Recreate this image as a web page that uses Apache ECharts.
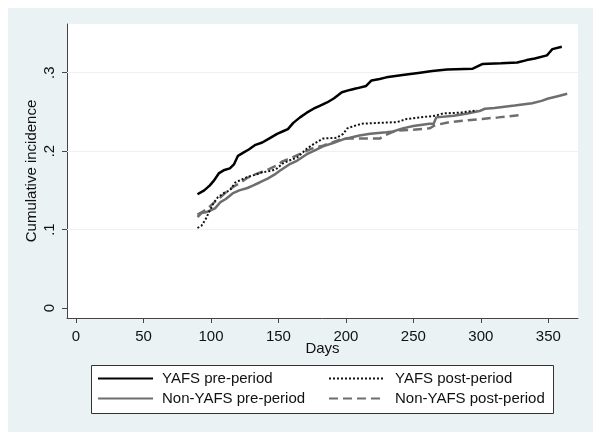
<!DOCTYPE html>
<html>
<head>
<meta charset="utf-8">
<script src="https://cdn.jsdelivr.net/npm/echarts@6/dist/echarts.min.js"></script>
<style>
html,body{margin:0;padding:0;background:#ffffff;}
#chart{width:602px;height:442px;}
</style>
</head>
<body>
<div id="chart"></div>
<script>
// ---- data ----
const seriesNames = ['YAFS pre-period', 'YAFS post-period', 'Non-YAFS pre-period', 'Non-YAFS post-period'];
const xTicks = [0, 50, 100, 150, 200, 250, 300, 350];
const yTicks = [0, 0.1, 0.2, 0.3];
const yGrid = [0.1, 0.2, 0.3];

const yafsPre = [
  [90,.145],[95,.150],[99,.156],[102,.162],[106,.172],[110,.176],[114,.178],[117,.183],
  [120,.194],[124,.198],[128,.202],[133,.208],[138,.211],[143,.216],[149,.222],[153,.225],
  [157,.228],[161,.236],[166,.243],[171,.249],[176,.254],[181,.258],[186,.262],[191,.267],
  [197,.275],[203,.278],[208,.280],[215,.283],[219,.290],[225,.292],[230,.294],[242,.297],
  [255,.300],[264,.302],[275,.304],[294,.305],[301,.311],[315,.312],[327,.313],[334,.316],
  [340,.318],[349,.322],[351,.326],[353,.330],[360,.333]
];
const yafsPost = [
  [90,.102],[93,.105],[96,.113],[99,.124],[102,.134],[105,.141],[110,.147],[114,.150],
  [118,.160],[123,.164],[127,.167],[133,.170],[138,.173],[145,.175],[149,.178],[153,.184],
  [158,.188],[164,.192],[171,.203],[177,.210],[183,.216],[193,.217],[198,.222],[201,.229],
  [206,.232],[212,.235],[225,.236],[238,.237],[245,.241],[255,.243],[266,.245],[272,.248],
  [285,.249],[297,.252]
];
const nonYafsPre = [
  [90,.116],[93,.121],[96,.122],[99,.124],[103,.127],[107,.135],[111,.139],[116,.146],
  [121,.150],[127,.153],[131,.156],[136,.160],[142,.165],[147,.170],[151,.175],[158,.183],
  [164,.188],[171,.196],[177,.201],[183,.206],[190,.210],[198,.215],[203,.217],[210,.220],
  [218,.222],[230,.224],[235,.225],[242,.229],[250,.232],[262,.235],[265,.235],[267,.243],
  [280,.245],[290,.248],[299,.251],[303,.254],[310,.255],[319,.257],[325,.258],[338,.261],
  [345,.264],[350,.267],[357,.270],[364,.273]
];
const nonYafsPost = [
  [90,.119],[94,.123],[97,.126],[102,.134],[107,.141],[112,.149],[117,.155],[122,.160],
  [127,.166],[132,.170],[137,.173],[143,.177],[149,.182],[153,.187],[159,.191],[164,.195],
  [168,.198],[173,.202],[178,.205],[183,.207],[188,.210],[193,.213],[197,.216],[215,.216],
  [225,.216],[229,.220],[234,.224],[238,.226],[248,.227],[262,.229],[266,.233],[277,.237],
  [288,.239],[301,.241],[313,.243],[330,.246]
];

// ---- chart ----
const FONT = '"Liberation Sans", Arial, sans-serif';
const chart = echarts.init(document.getElementById('chart'), null, {renderer: 'canvas'});

function fmtY(v) {
  if (Math.abs(v) < 1e-9) return '0';
  return v.toFixed(1).replace(/^0/, '');
}

const legendCommon = {
  orient: 'vertical', padding: 0, itemGap: 5, itemWidth: 55, itemHeight: 16,
  selectedMode: false, z: 20,
  itemStyle: {color: 'transparent', borderColor: 'transparent', borderWidth: 0, opacity: 0}
};

const option = {
  animation: false,
  backgroundColor: '#ffffff',
  graphic: [
    {type: 'rect', z: -10, silent: true, shape: {x: 8, y: 8, width: 585, height: 424},
     style: {fill: '#eaf2f3'}},
    {type: 'rect', z: 10, silent: true, shape: {x: 91.5, y: 365.5, width: 462, height: 48},
     style: {fill: '#ffffff', stroke: '#333333', lineWidth: 1}}
  ],
  grid: {left: 67, top: 24, right: 24, bottom: 124, show: true, backgroundColor: '#ffffff', borderWidth: 0},
  xAxis: {
    type: 'value', min: -6.7, max: 372,
    name: 'Days', nameLocation: 'middle', nameGap: 23, nameMoveOverlap: false,
    nameTextStyle: {fontFamily: FONT, fontSize: 15, color: '#111'},
    axisLine: {show: true, onZero: false, lineStyle: {color: '#444', width: 1}},
    axisTick: {show: true, length: 5, customValues: xTicks, lineStyle: {color: '#444'}},
    axisLabel: {customValues: xTicks, fontFamily: FONT, fontSize: 15, color: '#111', margin: 11},
    splitLine: {show: false}
  },
  yAxis: {
    type: 'value', min: -0.0127, max: 0.362,
    name: 'Cumulative incidence', nameLocation: 'middle', nameGap: 28, nameRotate: 90, nameMoveOverlap: false,
    nameTextStyle: {fontFamily: FONT, fontSize: 15, color: '#111'},
    axisLine: {show: true, onZero: false, lineStyle: {color: '#444', width: 1}},
    axisTick: {show: true, length: 5, customValues: yTicks, lineStyle: {color: '#444'}},
    axisLabel: {customValues: yTicks, formatter: fmtY, rotate: 90, fontFamily: FONT, fontSize: 15, color: '#111', margin: 10},
    splitLine: {show: false}
  },
  legend: [
    Object.assign({}, legendCommon, {left: 97, top: 371,
      textStyle: {fontFamily: FONT, fontSize: 15, color: '#111', padding: [0, 0, 0, 4]},
      data: [seriesNames[0], seriesNames[2]]}),
    Object.assign({}, legendCommon, {left: 328, top: 371,
      textStyle: {fontFamily: FONT, fontSize: 15, color: '#111', padding: [0, 0, 0, 6]},
      data: [seriesNames[1], seriesNames[3]]})
  ],
  series: [
    {
      name: '__grid', type: 'line', data: [], silent: true, z: 1,
      markLine: {silent: true, z: 1, symbol: 'none', label: {show: false},
        lineStyle: {color: '#eaf2f3', width: 1, type: 'solid'},
        emphasis: {disabled: true},
        data: yGrid.map(v => ({yAxis: v}))}
    },
    {name: seriesNames[2], type: 'line', data: nonYafsPre, showSymbol: false, symbol: 'none', z: 3,
     lineStyle: {color: '#6e6e6e', width: 2.5, type: 'solid'}, itemStyle: {color: '#6e6e6e'}},
    {name: seriesNames[3], type: 'line', data: nonYafsPost, showSymbol: false, symbol: 'none', z: 3,
     lineStyle: {color: '#6e6e6e', width: 2.5, type: [9, 5]}, itemStyle: {color: '#6e6e6e'}},
    {name: seriesNames[1], type: 'line', data: yafsPost, showSymbol: false, symbol: 'none', z: 4,
     lineStyle: {color: '#111111', width: 2, type: [2, 2]}, itemStyle: {color: '#111111'}},
    {name: seriesNames[0], type: 'line', data: yafsPre, showSymbol: false, symbol: 'none', z: 5,
     lineStyle: {color: '#000000', width: 2.5, type: 'solid'}, itemStyle: {color: '#000000'}}
  ]
};
chart.setOption(option);
</script>
</body>
</html>
